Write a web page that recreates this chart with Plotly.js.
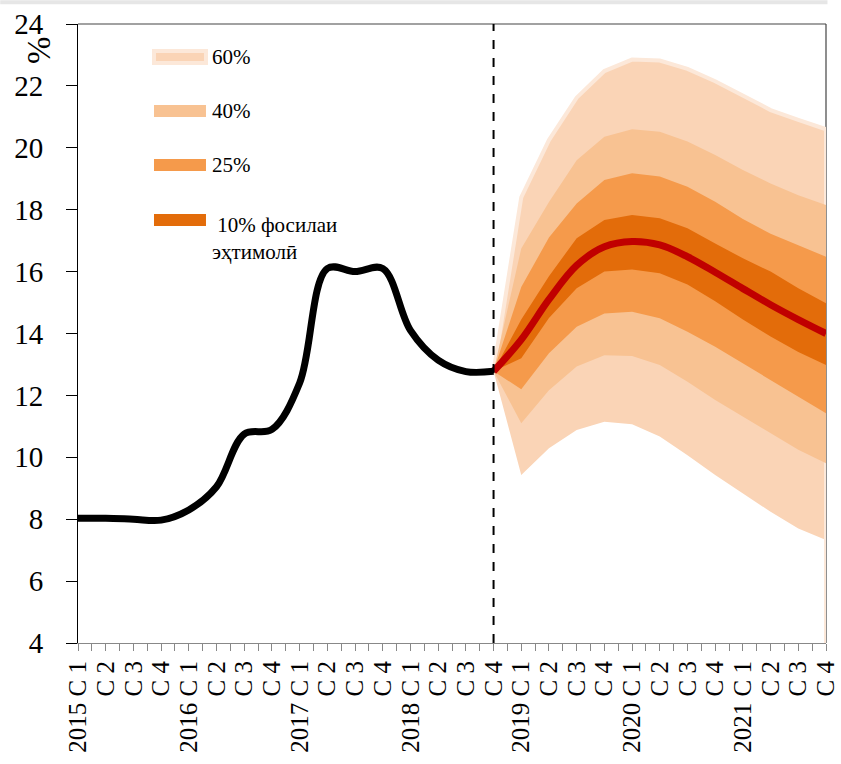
<!DOCTYPE html>
<html>
<head>
<meta charset="utf-8">
<script src="https://cdn.plot.ly/plotly-3.0.1.min.js"></script>
<style>html,body{margin:0;padding:0;background:#fff;}#chart{width:841px;height:764px;}</style>
</head>
<body>
<div id="chart"></div>
<script>
// ---- data ----
const years = ["2015","2016","2017","2018","2019","2020","2021"];
const quarters = ["C 1","C 2","C 3","C 4"];
const categories = [];
years.forEach(y => quarters.forEach((q, k) => categories.push(k === 0 ? y + " " + q : q)));

const history = [8.03, 8.03, 8.0, 7.97, 8.3, 9.05, 10.75, 10.9, 12.4, 16.1, 16.0, 16.1, 14.1, 13.14, 12.77, 12.78];
const forecastStart = 15; // 2018 C4
const central = [12.78, 13.8, 15.1, 16.2, 16.8, 16.97, 16.86, 16.48, 15.98, 15.45, 14.93, 14.45, 14.0];
const up10 = [12.78, 14.45, 15.85, 17.08, 17.67, 17.83, 17.72, 17.4, 16.91, 16.43, 16.0, 15.46, 14.98];
const lo10 = [12.78, 13.2, 14.5, 15.46, 16.0, 16.07, 15.95, 15.58, 15.04, 14.45, 13.9, 13.4, 12.98];
const up25 = [12.78, 15.5, 17.1, 18.2, 18.96, 19.18, 19.07, 18.74, 18.26, 17.7, 17.22, 16.85, 16.48];
const lo25 = [12.78, 12.2, 13.36, 14.22, 14.65, 14.7, 14.49, 14.06, 13.57, 13.04, 12.5, 11.96, 11.42];
const up40 = [12.78, 16.75, 18.25, 19.6, 20.36, 20.6, 20.52, 20.2, 19.77, 19.28, 18.85, 18.47, 18.15];
const lo40 = [12.78, 11.1, 12.17, 12.93, 13.3, 13.27, 12.98, 12.44, 11.85, 11.31, 10.78, 10.24, 9.81];
const up60 = [12.78, 18.4, 20.25, 21.62, 22.48, 22.85, 22.82, 22.55, 22.15, 21.67, 21.22, 20.9, 20.6];
const lo60 = [12.78, 9.43, 10.29, 10.88, 11.15, 11.07, 10.67, 10.07, 9.43, 8.84, 8.24, 7.7, 7.33];
const bandLabels = ["60%", "40%", "25%", " 10% фосилаи<br>эҳтимолӣ"];
const yMin = 4, yMax = 24;

// ---- styles ----
const colors = {c60: "#fad4b6", c60b: "#fce8d9", c40: "#f8c292", c25: "#f59a4b", c10: "#e36c0a", red: "#c00000"};
const serif = "Liberation Serif";

const xHist = history.map((_, i) => i);
const xFc = central.map((_, i) => forecastStart + i);

function band(up, lo, color) {
  return {
    x: xFc.concat(xFc.slice().reverse()),
    y: up.concat(lo.slice().reverse()),
    type: "scatter", mode: "lines", fill: "toself", fillcolor: color,
    line: {width: 0}, hoverinfo: "skip", showlegend: false
  };
}

const traces = [
  band(up60, lo60, colors.c60),
  {x: xFc.concat([xFc[xFc.length - 1]]), y: up60.concat([yMin]), type: "scatter", mode: "lines",
   line: {color: colors.c60b, width: 4}, hoverinfo: "skip", showlegend: false},
  band(up40, lo40, colors.c40),
  band(up25, lo25, colors.c25),
  band(up10, lo10, colors.c10),
  {x: xFc, y: central, type: "scatter", mode: "lines", line: {color: colors.red, width: 7, shape: "spline", smoothing: 1},
   hoverinfo: "skip", showlegend: false},
  {x: xHist, y: history, type: "scatter", mode: "lines", line: {color: "#000", width: 7, shape: "spline", smoothing: 1},
   hoverinfo: "skip", showlegend: false}
];

// tick values: each category plus half steps (ticks only)
const tickvals = [], ticktext = [];
categories.forEach((c, i) => {
  tickvals.push(i); ticktext.push(c);
  if (i < categories.length - 1) { tickvals.push(i + 0.5); ticktext.push(""); }
});

// legend (custom)
const legendFills = [colors.c60, colors.c40, colors.c25, colors.c10];
const legY = [0.9467, 0.8595, 0.7722, 0.6834];
const shapes = [
  {type: "line", xref: "x", yref: "paper", x0: forecastStart, x1: forecastStart, y0: 0, y1: 1,
   line: {color: "#000", width: 2, dash: "dash"}},
  {type: "line", xref: "paper", yref: "paper", x0: 0, x1: 1, y0: 1, y1: 1, line: {color: "#444", width: 1.2}, layer: "below"},
  {type: "line", xref: "paper", yref: "paper", x0: 1, x1: 1, y0: 0, y1: 1, line: {color: "#444", width: 1.2}, layer: "below"},
  {type: "line", xref: "paper", yref: "paper", x0: -0.104, x1: 1.002, y0: 1.035, y1: 1.035, line: {color: "#e6e6e6", width: 4}}
];
const annotations = [
  {xref: "paper", yref: "paper", x: -0.0521, y: 0.958, xanchor: "center", yanchor: "middle", text: "%", showarrow: false, textangle: -90,
   font: {family: serif, size: 33, color: "#000"}}
];
legendFills.forEach((c, k) => {
  shapes.push({type: "rect", xref: "paper", yref: "paper", x0: 0.1016, x1: 0.1711, y0: legY[k] - 0.0097, y1: legY[k] + 0.0097,
    fillcolor: c, line: k === 0 ? {color: colors.c60b, width: 4} : {width: 0}});
  annotations.push({xref: "paper", yref: "paper", x: 0.1765, y: legY[k] + (k === 3 ? 0.014 : 0), xanchor: "left",
    yanchor: k === 3 ? "top" : "middle", align: "left", text: bandLabels[k], showarrow: false,
    font: {family: serif, size: 21, color: "#000"}});
});

const layout = {
  width: 841, height: 764,
  margin: {l: 78, r: 15, t: 24, b: 121},
  paper_bgcolor: "#fff", plot_bgcolor: "#fff",
  showlegend: false,
  xaxis: {
    range: [0, categories.length - 1], tickmode: "array", tickvals: tickvals, ticktext: ticktext,
    tickangle: -90, ticks: "outside", ticklen: 7, tickcolor: "#888", tickwidth: 1,
    showline: true, linecolor: "#888", linewidth: 1, showgrid: false, zeroline: false,
    tickfont: {family: serif, size: 25, color: "#000"}, layer: "above traces"
  },
  yaxis: {
    range: [yMin, yMax], dtick: 2, ticks: "outside", ticklen: 11, tickcolor: "#000", tickwidth: 1,
    showline: true, linecolor: "#000", linewidth: 1, showgrid: false, zeroline: false,
    tickfont: {family: serif, size: 29, color: "#000"}, ticklabelstandoff: 17
  },
  shapes: shapes,
  annotations: annotations
};

Plotly.newPlot("chart", traces, layout, {staticPlot: true, displayModeBar: false});
</script>
</body>
</html>
